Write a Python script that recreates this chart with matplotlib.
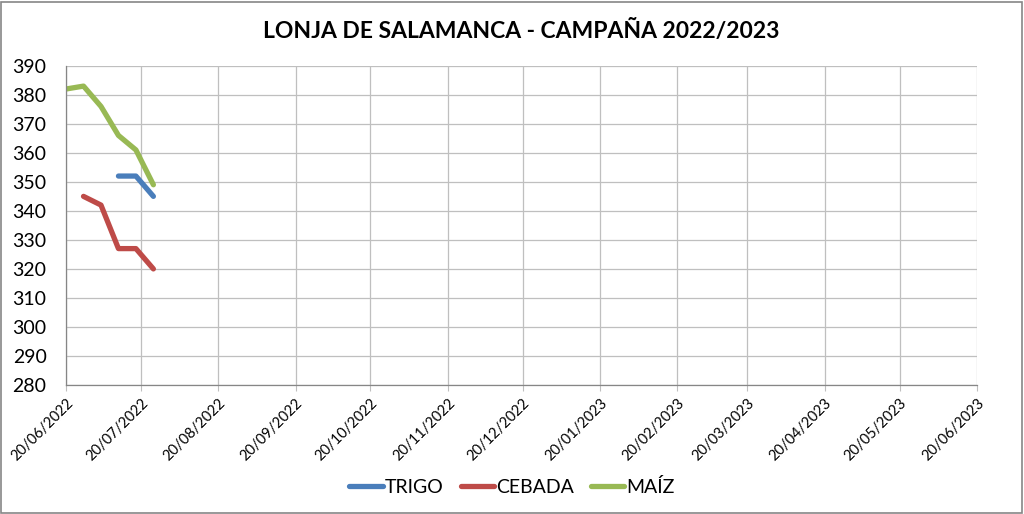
import matplotlib.pyplot as plt
import matplotlib.dates as mdates
import pandas as pd

plt.rcParams['font.family'] = ['Lato', 'DejaVu Sans']

fechas = pd.to_datetime(['2022-06-20', '2022-06-27', '2022-07-04', '2022-07-11',
                         '2022-07-18', '2022-07-25'])
trigo = [None, None, None, 352, 352, 345]
cebada = [None, 345, 342, 327, 327, 320]
maiz = [382, 383, 376, 366, 361, 349]

ticks = pd.to_datetime(['2022-06-20', '2022-07-20', '2022-08-20', '2022-09-20',
                        '2022-10-20', '2022-11-20', '2022-12-20', '2023-01-20',
                        '2023-02-20', '2023-03-20', '2023-04-20', '2023-05-20',
                        '2023-06-20'])

fig = plt.figure(figsize=(10.24, 5.14), dpi=100)
ax = fig.add_axes([0.0645, 0.251, 0.8895, 0.621])

ax.plot(fechas, pd.Series(trigo, dtype=float), color='#4a7ebb', lw=3.8,
        solid_capstyle='round', solid_joinstyle='round', label='TRIGO')
ax.plot(fechas, pd.Series(cebada, dtype=float), color='#be4b48', lw=3.8,
        solid_capstyle='round', solid_joinstyle='round', label='CEBADA')
ax.plot(fechas, pd.Series(maiz, dtype=float), color='#98b954', lw=3.8,
        solid_capstyle='round', solid_joinstyle='round', label='MAÍZ')

ax.set_xlim(ticks[0], ticks[-1])
ax.set_ylim(280, 390)
ax.set_yticks(range(280, 391, 10))
ax.set_xticks(ticks)
ax.xaxis.set_major_formatter(mdates.DateFormatter('%d/%m/%Y'))
plt.setp(ax.get_xticklabels(), rotation=45, ha='right', rotation_mode='anchor', fontsize=10.5)
ax.tick_params(axis='y', labelsize=14, length=0, pad=14)
ax.tick_params(axis='x', length=4, color='#bfbfbf', pad=4)
ax.grid(True, color='#bfbfbf', lw=0.9)
for s in ['top', 'right']:
    ax.spines[s].set_visible(False)
for s in ['left', 'bottom']:
    ax.spines[s].set_color('#868686')
    ax.spines[s].set_linewidth(0.9)

ax.set_title('LONJA DE SALAMANCA - CAMPAÑA 2022/2023', fontsize=16.5, fontweight='bold', pad=20)
fig.legend(loc='center', bbox_to_anchor=(0.5, 0.052), ncol=3, frameon=False,
           fontsize=14, handlelength=1.7, columnspacing=0.9, handletextpad=0.1)

fig.patches.append(plt.Rectangle((0.001, 0.002), 0.997, 0.995, transform=fig.transFigure,
                                 fill=False, edgecolor='#868686', lw=1.2))
fig.savefig('out.png', dpi=100)
